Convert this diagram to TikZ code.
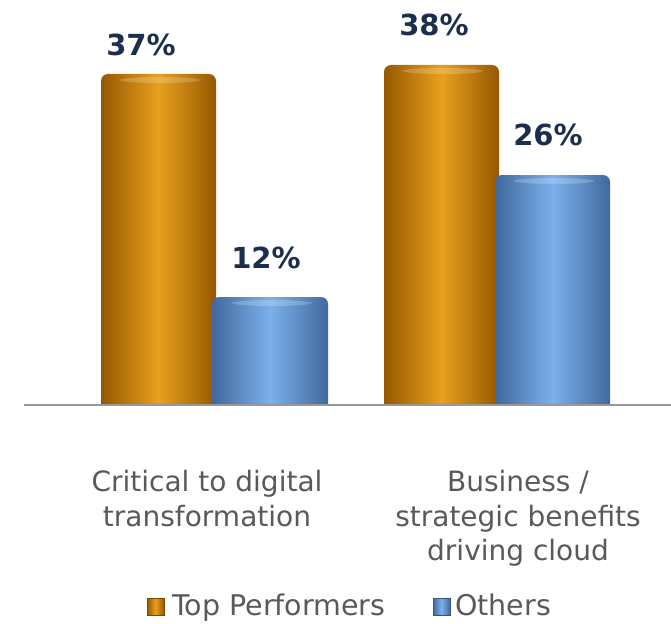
\documentclass[tikz,border=0pt]{standalone}
\usepackage{fontspec}
\setmainfont{DejaVu Sans}
\begin{document}
\begin{tikzpicture}[x=1pt,y=-1pt,
  pct/.style={font=\bfseries\fontsize{29}{32}\selectfont, text=navy},
  cat/.style={font=\fontsize{28}{34.5}\selectfont, text=graytext, align=center},
  leg/.style={font=\fontsize{28.5}{32}\selectfont, text=graytext, anchor=base west, inner sep=0pt}]
\definecolor{orangemid}{HTML}{E8A01E}
\definecolor{orangedark}{HTML}{955800}
\definecolor{bluemid}{HTML}{7BB0EC}
\definecolor{bluedark}{HTML}{41699D}
\definecolor{navy}{HTML}{1C2E4E}
\definecolor{graytext}{HTML}{595959}
\useasboundingbox (0,0) rectangle (671,623);
\tikzset{orangebar/.style={left color=orangedark, right color=orangedark, middle color=orangemid},
  bluebar/.style={left color=bluedark, right color=bluedark, middle color=bluemid}}
% bars
\shade[orangebar] (101,405) [rounded corners=7] -- (101,74) -- (216,74) [sharp corners] -- (216,405) -- cycle;
\shade[bluebar] (212,405) [rounded corners=7] -- (212,297) -- (328,297) [sharp corners] -- (328,405) -- cycle;
\shade[orangebar] (384,405) [rounded corners=7] -- (384,65) -- (499,65) [sharp corners] -- (499,405) -- cycle;
\shade[bluebar] (495,405) [rounded corners=7] -- (495,175) -- (610,175) [sharp corners] -- (610,405) -- cycle;
% top highlights
\fill[white,opacity=0.2] (160,80) ellipse (40 and 3);
\fill[white,opacity=0.2] (272,303) ellipse (40 and 3);
\fill[white,opacity=0.2] (443,71) ellipse (40 and 3);
\fill[white,opacity=0.2] (554,181) ellipse (40 and 3);
% axis
\draw[line width=2pt, gray!80] (24,405) -- (671,405);
% values
\node[pct] (v1) at (141,45) {37\%};
\node[pct] (v2) at (266,258) {12\%};
\node[pct] (v3) at (434,25) {38\%};
\node[pct] (v4) at (548,135) {26\%};
% categories
\node[cat, anchor=north] (c1) at (207,467) {Critical to digital\\transformation};
\node[cat, anchor=north] (c2) at (518,467) {Business /\\strategic benefits\\driving cloud};
% legend
\shade[orangebar, draw=orangedark!80!black] (147,598) rectangle (164,615);
\node[leg] (l1) at (172,615) {Top Performers};
\shade[bluebar, draw=bluedark!80!black] (433,598) rectangle (450,615);
\node[leg] (l2) at (455,615) {Others};
\end{tikzpicture}
\end{document}
